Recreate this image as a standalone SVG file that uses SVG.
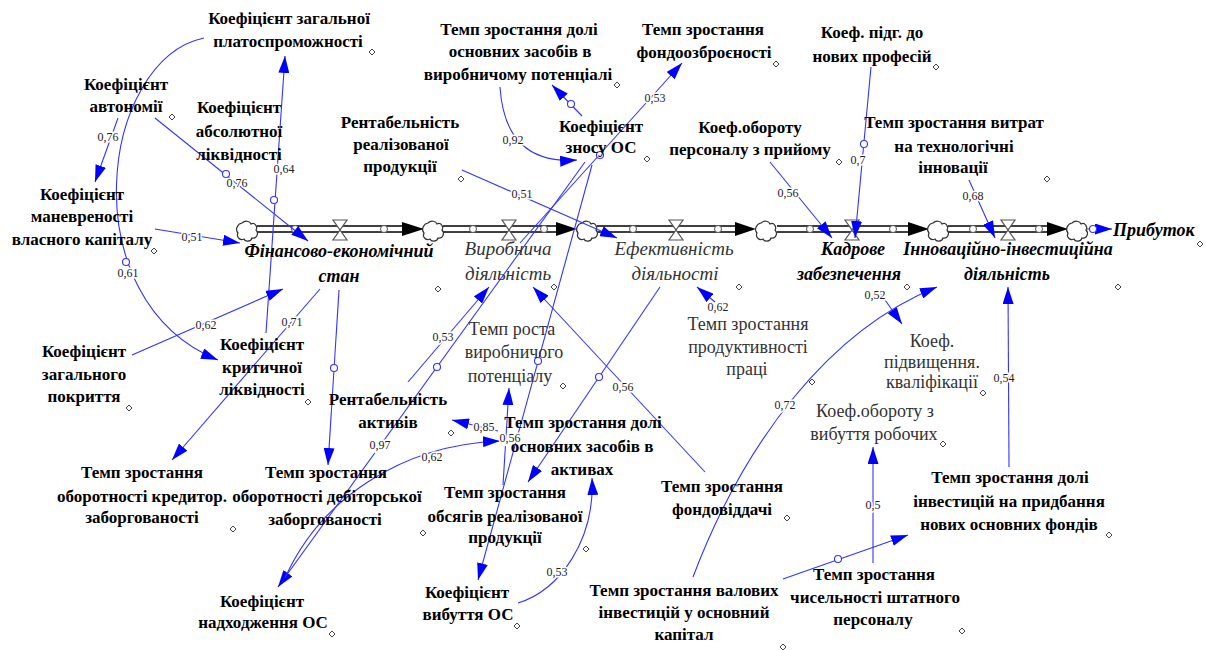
<svg xmlns="http://www.w3.org/2000/svg" width="1206" height="650" viewBox="0 0 1206 650" font-family="Liberation Serif, Times New Roman, serif">
<defs>
<style>
text{font-family:'Liberation Serif','Times New Roman',serif;text-anchor:middle}
.b{font-size:17px;font-weight:bold;fill:#000}
.r{font-size:18px;fill:#333}
.s{font-size:18px;font-weight:bold;font-style:italic;fill:#000}
.si{font-size:19px;font-style:italic;fill:#333}
.lbl{font-size:12px;fill:#222;stroke:#fff;stroke-width:3px;paint-order:stroke}
.c{fill:none;stroke:#3333ff;stroke-width:1.1;marker-end:url(#ah)}
.h{fill:#fff;stroke:#3333ff;stroke-width:1.1}
.d{fill:#fff;stroke:#444;stroke-width:1}
.po{fill:none;stroke:#000;stroke-width:7.5}
.pi{fill:none;stroke:#fff;stroke-width:4.5}
.pc{fill:#fff;stroke:#555;stroke-width:1}
.valve{fill:#fff;stroke:#555;stroke-width:1.2}
.cloud{fill:#fff;stroke:#333;stroke-width:1.2}
</style>
<marker id="ah" markerUnits="userSpaceOnUse" markerWidth="17" markerHeight="11" refX="17" refY="5.5" orient="auto">
<path d="M0,0 L17,5.5 L0,11 Z" fill="#0000ff"/>
</marker>
<path id="dm" d="M0,-3 L3,0 L0,3 L-3,0 Z"/>
<path id="cl" d="M-5,-8 C-2,-11 3,-10 4,-7 C8,-9 11,-4 9,-1 C12,2 10,8 5,7 C4,11 -2,11 -3,8 C-7,10 -11,6 -9,2 C-12,-1 -10,-7 -5,-8 Z"/>
<path id="vl" d="M-7,-10 L7,-10 L-7,10 L7,10 Z"/>
</defs>
<rect width="1206" height="650" fill="#fff"/>

<!-- main flow chain -->
<g id="pipeline">
<path class="po" d="M257,229 H404 M443,229 H558 M597,229 H737 M777,229 H910 M948,229 H1049"/>
<path class="pi" d="M256,229 H405 M442,229 H559 M596,229 H738 M776,229 H911 M947,229 H1050"/>
<g fill="#000">
<path d="M402,222 L424,229 L402,236 Z"/>
<path d="M556,222 L577,229 L556,236 Z"/>
<path d="M735,222 L756,229 L735,236 Z"/>
<path d="M908,222 L929,229 L908,236 Z"/>
<path d="M1047,222 L1068,229 L1047,236 Z"/>
</g>
<use href="#cl" class="cloud" x="247" y="231"/>
<use href="#cl" class="cloud" x="433" y="231"/>
<use href="#cl" class="cloud" x="587" y="231"/>
<use href="#cl" class="cloud" x="766" y="231"/>
<use href="#cl" class="cloud" x="938" y="231"/>
<use href="#cl" class="cloud" x="1077" y="231"/>
<use href="#vl" class="valve" x="340" y="230"/>
<use href="#vl" class="valve" x="509" y="230"/>
<use href="#vl" class="valve" x="676" y="230"/>
<use href="#vl" class="valve" x="852" y="230"/>
<use href="#vl" class="valve" x="1008" y="230"/>
<g class="pc">
<circle cx="295" cy="229" r="3.5"/><circle cx="384" cy="229" r="3.5"/>
<circle cx="473" cy="229" r="3.5"/><circle cx="544" cy="229" r="3.5"/>
<circle cx="633" cy="229" r="3.5"/><circle cx="718" cy="229" r="3.5"/>
<circle cx="810" cy="229" r="3.5"/><circle cx="893" cy="229" r="3.5"/>
<circle cx="973" cy="229" r="3.5"/><circle cx="1039" cy="229" r="3.5"/>
</g>
</g>

<!-- connectors -->
<g id="connectors">
<path class="c" d="M118,118 L95,182"/>
<path class="c" d="M155,118 L308,241"/>
<path class="c" d="M266,333 L285,56"/>
<path class="c" d="M204,38 C100,60 70,300 218,360"/>
<path class="c" d="M155,229 L240,243"/>
<path class="c" d="M132,355 L283,289"/>
<path class="c" d="M320,289 L172,460"/>
<path class="c" d="M339,290 L328,465"/>
<path class="c" d="M408,382 L489,287"/>
<path class="c" d="M520,243 L682,63"/>
<path class="c" d="M585,162 L278,587"/>
<path class="c" d="M592,165 L478,580"/>
<path class="c" d="M503,485 L509,388"/>
<path class="c" d="M498,431 L452,420"/>
<path class="c" d="M285,578 C320,500 400,445 500,441"/>
<path class="c" d="M518,603 C560,590 595,540 592,478"/>
<path class="c" d="M660,287 L528,482"/>
<path class="c" d="M705,472 L533,287"/>
<path class="c" d="M462,170 L617,238"/>
<path class="c" d="M715,302 L697,287"/>
<path class="c" d="M500,87 Q505,165 577,160"/>
<path class="c" d="M582,116 L552,85"/>
<path class="c" d="M770,162 L832,238"/>
<path class="c" d="M871,67 L855,238"/>
<path class="c" d="M969,180 L995,238"/>
<path class="c" d="M878,290 L902,324"/>
<path class="c" d="M693,577 C745,440 830,330 937,287"/>
<path class="c" d="M1009,467 L1008,287"/>
<path class="c" d="M873,563 L873,447"/>
<path class="c" d="M783,579 L908,535"/>
<path class="c" d="M1087,229 L1112,229"/>
<circle class="h" cx="226" cy="174" r="3.5"/>
<circle class="h" cx="274" cy="200" r="3.5"/>
<circle class="h" cx="126" cy="262" r="3.5"/>
<circle class="h" cx="334" cy="368" r="3.5"/>
<circle class="h" cx="600" cy="155" r="3.5"/>
<circle class="h" cx="437" cy="367" r="3.5"/>
<circle class="h" cx="538" cy="361" r="3.5"/>
<circle class="h" cx="599" cy="377" r="3.5"/>
<circle class="h" cx="571" cy="104" r="3.5"/>
<circle class="h" cx="864" cy="144" r="3.5"/>
<circle class="h" cx="838" cy="559" r="3.5"/>
<circle class="h" cx="1093" cy="229" r="3.5"/>
<text class="lbl" x="108" y="141">0,76</text>
<text class="lbl" x="237" y="187">0,76</text>
<text class="lbl" x="284" y="173">0,64</text>
<text class="lbl" x="128" y="277">0,61</text>
<text class="lbl" x="192" y="241">0,51</text>
<text class="lbl" x="206" y="329">0,62</text>
<text class="lbl" x="292" y="326">0,71</text>
<text class="lbl" x="443" y="341">0,53</text>
<text class="lbl" x="655" y="102">0,53</text>
<text class="lbl" x="380" y="449">0,97</text>
<text class="lbl" x="510" y="442">0,56</text>
<text class="lbl" x="484" y="431">0,85</text>
<text class="lbl" x="432" y="461">0,62</text>
<text class="lbl" x="557" y="576">0,53</text>
<text class="lbl" x="623" y="391">0,56</text>
<text class="lbl" x="522" y="198">0,51</text>
<text class="lbl" x="718" y="311">0,62</text>
<text class="lbl" x="513" y="144">0,92</text>
<text class="lbl" x="788" y="197">0,56</text>
<text class="lbl" x="858" y="164">0,7</text>
<text class="lbl" x="973" y="200">0,68</text>
<text class="lbl" x="875" y="299">0,52</text>
<text class="lbl" x="785" y="409">0,72</text>
<text class="lbl" x="1004" y="382">0,54</text>
<text class="lbl" x="873" y="509">0,5</text>
</g>

<!-- variables -->
<g id="n_platospromozhnist"><text class="b"><tspan x="289" y="24">Коефіцієнт загальної</tspan><tspan x="288" y="47">платоспроможності</tspan></text><use href="#dm" class="d" x="372" y="52"/></g>
<g id="n_avtonomia"><text class="b"><tspan x="126" y="90">Коефіцієнт</tspan><tspan x="126" y="112">автономії</tspan></text><use href="#dm" class="d" x="172" y="117"/></g>
<g id="n_absolutna"><text class="b"><tspan x="239" y="113">Коефіцієнт</tspan><tspan x="239" y="137">абсолютної</tspan><tspan x="239" y="160">ліквідності</tspan></text></g>
<g id="n_manevrenist"><text class="b"><tspan x="82" y="200">Коефіцієнт</tspan><tspan x="82" y="222">маневреності</tspan><tspan x="82" y="245">власного капіталу</tspan></text><use href="#dm" class="d" x="154" y="251"/></g>
<g id="n_pokryttya"><text class="b"><tspan x="84" y="357">Коефіцієнт</tspan><tspan x="84" y="380">загального</tspan><tspan x="84" y="402">покриття</tspan></text><use href="#dm" class="d" x="129" y="408"/></g>
<g id="n_krytychna"><text class="b"><tspan x="262" y="350">Коефіцієнт</tspan><tspan x="262" y="373">критичної</tspan><tspan x="262" y="395">ліквідності</tspan></text><use href="#dm" class="d" x="308" y="402"/></g>
<g id="n_rent_real"><text class="b"><tspan x="400" y="128">Рентабельність</tspan><tspan x="401" y="150">реалізованої</tspan><tspan x="400" y="172">продукції</tspan></text><use href="#dm" class="d" x="461" y="179"/></g>
<g id="n_dolya_vp"><text class="b"><tspan x="519" y="35">Темп зростання долі</tspan><tspan x="520" y="57">основних засобів в</tspan><tspan x="518" y="80">виробничому потенціалі</tspan></text><use href="#dm" class="d" x="617" y="85"/></g>
<g id="n_fondoozbr"><text class="b"><tspan x="703" y="35">Темп зростання</tspan><tspan x="704" y="58">фондоозброєності</tspan></text><use href="#dm" class="d" x="776" y="64"/></g>
<g id="n_znos"><text class="b"><tspan x="601" y="132">Коефіцієнт</tspan><tspan x="601" y="153">зносу ОС</tspan></text><use href="#dm" class="d" x="647" y="159"/></g>
<g id="n_obor_pryiom"><text class="b"><tspan x="750" y="133">Коеф.обороту</tspan><tspan x="750" y="155">персоналу з прийому</tspan></text><use href="#dm" class="d" x="839" y="162"/></g>
<g id="n_pidg"><text class="b"><tspan x="872" y="38">Коеф. підг. до</tspan><tspan x="872" y="62">нових професій</tspan></text><use href="#dm" class="d" x="936" y="67"/></g>
<g id="n_vytraty"><text class="b"><tspan x="954" y="128">Темп зростання витрат</tspan><tspan x="954" y="152">на технологічні</tspan><tspan x="953" y="173">інновації</tspan></text><use href="#dm" class="d" x="1047" y="179"/></g>

<g id="n_fin"><text class="s"><tspan x="339" y="257">Фінансово-економічний</tspan><tspan x="339" y="282">стан</tspan></text><use href="#dm" class="d" x="438" y="289"/></g>
<g id="n_vyrob"><text class="si"><tspan x="508" y="255">Виробнича</tspan><tspan x="508" y="280">діяльність</tspan></text><use href="#dm" class="d" x="554" y="287"/></g>
<g id="n_efekt"><text class="si"><tspan x="674" y="255">Ефективність</tspan><tspan x="675" y="280">діяльності</tspan></text><use href="#dm" class="d" x="739" y="287"/></g>
<g id="n_kadr"><text class="s"><tspan x="853" y="255">Кадрове</tspan><tspan x="849" y="280">забезпечення</tspan></text><use href="#dm" class="d" x="907" y="287"/></g>
<g id="n_innov"><text class="s"><tspan x="1008" y="255">Інноваційно-інвестиційна</tspan><tspan x="1007" y="280">діяльність</tspan></text><use href="#dm" class="d" x="1118" y="287"/></g>
<g id="n_prybutok"><text class="s" x="1113" y="236" style="text-anchor:start">Прибуток</text><use href="#dm" class="d" x="1200" y="244"/></g>

<g id="n_temp_rosta"><text class="r"><tspan x="512" y="335">Темп роста</tspan><tspan x="514" y="358">виробничого</tspan><tspan x="510" y="382">потенціалу</tspan></text><use href="#dm" class="d" x="563" y="386"/></g>
<g id="n_produkt"><text class="r"><tspan x="748" y="330">Темп зростання</tspan><tspan x="748" y="353">продуктивності</tspan><tspan x="747" y="375">праці</tspan></text><use href="#dm" class="d" x="812" y="382"/></g>
<g id="n_kvalif"><text class="r"><tspan x="932" y="347">Коеф.</tspan><tspan x="932" y="368">підвищення.</tspan><tspan x="932" y="388">кваліфікації</tspan></text><use href="#dm" class="d" x="983" y="393"/></g>
<g id="n_obor_vybuttya"><text class="r"><tspan x="875" y="417">Коеф.обороту з</tspan><tspan x="874" y="440">вибуття робочих</tspan></text><use href="#dm" class="d" x="943" y="444"/></g>

<g id="n_rent_aktyv"><text class="b"><tspan x="388" y="405">Рентабельність</tspan><tspan x="388" y="428">активів</tspan></text><use href="#dm" class="d" x="451" y="433"/></g>
<g id="n_dolya_akt"><text class="b"><tspan x="583" y="428">Темп зростання долі</tspan><tspan x="582" y="452">основних засобів в</tspan><tspan x="582" y="475">активах</tspan></text></g>
<g id="n_kredyt"><text class="b"><tspan x="142" y="478">Темп зростання</tspan><tspan x="142" y="502">оборотності кредитор.</tspan><tspan x="142" y="523">заборгованості</tspan></text><use href="#dm" class="d" x="233" y="529"/></g>
<g id="n_debit"><text class="b"><tspan x="326" y="478">Темп зростання</tspan><tspan x="327" y="502">оборотності дебіторської</tspan><tspan x="325" y="525">заборгованості</tspan></text><use href="#dm" class="d" x="423" y="533"/></g>
<g id="n_nadkh"><text class="b"><tspan x="262" y="607">Коефіцієнт</tspan><tspan x="263" y="628">надходження ОС</tspan></text><use href="#dm" class="d" x="332" y="634"/></g>
<g id="n_obsyag"><text class="b"><tspan x="505" y="498">Темп зростання</tspan><tspan x="505" y="522">обсягів реалізованої</tspan><tspan x="505" y="543">продукції</tspan></text><use href="#dm" class="d" x="586" y="549"/></g>
<g id="n_vybuttya"><text class="b"><tspan x="467" y="598">Коефіцієнт</tspan><tspan x="468" y="620">вибуття ОС</tspan></text><use href="#dm" class="d" x="517" y="626"/></g>
<g id="n_fondovid"><text class="b"><tspan x="722" y="492">Темп зростання</tspan><tspan x="722" y="515">фондовіддачі</tspan></text><use href="#dm" class="d" x="787" y="518"/></g>
<g id="n_valovi"><text class="b"><tspan x="684" y="596">Темп зростання валових</tspan><tspan x="684" y="618">інвестицій у основний</tspan><tspan x="684" y="640">капітал</tspan></text><use href="#dm" class="d" x="783" y="647"/></g>
<g id="n_invest"><text class="b"><tspan x="1010" y="483">Темп зростання долі</tspan><tspan x="1009" y="507">інвестицій на придбання</tspan><tspan x="1009" y="530">нових основних фондів</tspan></text><use href="#dm" class="d" x="1109" y="535"/></g>
<g id="n_chyselnist"><text class="b"><tspan x="874" y="580">Темп зростання</tspan><tspan x="875" y="603">чисельності штатного</tspan><tspan x="873" y="625">персоналу</tspan></text><use href="#dm" class="d" x="962" y="631"/></g>
</svg>
